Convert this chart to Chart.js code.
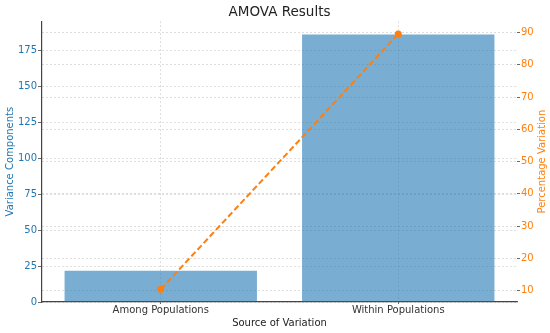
<!DOCTYPE html>
<html>
<head>
<meta charset="utf-8">
<title>AMOVA Results</title>
<script src="https://cdn.jsdelivr.net/npm/chart.js@4.4.1/dist/chart.umd.min.js"></script>
<style>
    html, body { margin: 0; padding: 0; background: #fff; }
    #wrap { width: 550px; height: 333px; }
</style>
</head>
<body>
<div id="wrap"><canvas id="chart"></canvas></div>
<script>
// data
const sources = ['Among Populations', 'Within Populations'];
const varianceComponents = [21.7, 186.3];
const percentVariation = [10.4, 89.6];

const blue = '#1f77b4';
const orange = '#ff7f0e';
const gridColor = 'rgba(0, 0, 0, 0.17)';
const font = 'DejaVu Sans';

// right axis label reads bottom-to-top like the left one, so draw it by hand
const rightTitle = {
    id: 'rightTitle',
    afterDraw(chart) {
        const {ctx, chartArea} = chart;
        ctx.save();
        ctx.font = `10px "${font}"`;
        ctx.fillStyle = orange;
        ctx.textAlign = 'center';
        ctx.textBaseline = 'middle';
        ctx.translate(542, (chartArea.top + chartArea.bottom) / 2);
        ctx.rotate(-Math.PI / 2);
        ctx.fillText('Percentage Variation', 0, 0);
        ctx.restore();
    }
};

new Chart(document.getElementById('chart'), {
    data: {
        labels: sources,
        datasets: [
            {
                type: 'line',
                data: percentVariation,
                yAxisID: 'y1',
                borderColor: orange,
                backgroundColor: orange,
                borderWidth: 2,
                borderDash: [6, 3],
                pointRadius: 3.5,
                pointBackgroundColor: orange,
                pointBorderWidth: 0,
                order: 0
            },
            {
                type: 'bar',
                data: varianceComponents,
                yAxisID: 'y',
                backgroundColor: 'rgba(31, 119, 180, 0.6)',
                barPercentage: 0.81,
                categoryPercentage: 1,
                order: 1
            }
        ]
    },
    options: {
        responsive: true,
        maintainAspectRatio: false,
        animation: false,
        devicePixelRatio: 1,
        layout: {padding: 0},
        plugins: {
            legend: {display: false},
            tooltip: {enabled: false},
            title: {
                display: true,
                text: 'AMOVA Results',
                fullSize: false,
                color: '#222',
                font: {family: font, size: 13.5, weight: 'normal'},
                padding: {top: 4, bottom: 1}
            }
        },
        scales: {
            x: {
                offset: true,
                grid: {
                    offset: false,
                    color: gridColor,
                    lineWidth: 0.8,
                    tickLength: 2,
                    tickColor: '#444',
                    tickBorderDash: []
                },
                // in v4 border.dash styles the grid lines, the axis line stays solid
                border: {display: true, color: '#444', width: 1.2, dash: [2, 2]},
                ticks: {color: '#333', font: {family: font, size: 10}, padding: 0, maxRotation: 0},
                title: {
                    display: true,
                    text: 'Source of Variation',
                    color: '#222',
                    font: {family: font, size: 10},
                    padding: {top: 0, bottom: 3.5}
                },
                afterFit(scale) {
                    scale.height = 31;
                }
            },
            y: {
                position: 'left',
                min: 0,
                max: 195.6,
                grid: {
                    color: gridColor,
                    lineWidth: 0.8,
                    tickLength: 4,
                    tickColor: '#444',
                    tickBorderDash: []
                },
                border: {display: true, color: '#444', width: 1.2, dash: [2, 2]},
                ticks: {
                    stepSize: 25,
                    includeBounds: false,
                    color: blue,
                    padding: 1,
                    font: {family: font, size: 10}
                },
                title: {
                    display: true,
                    text: 'Variance Components',
                    color: blue,
                    font: {family: font, size: 10},
                    padding: {top: 4, bottom: 0}
                },
                afterFit(scale) {
                    scale.width = 42;
                }
            },
            y1: {
                position: 'right',
                min: 6.44,
                max: 93.56,
                grid: {
                    color: gridColor,
                    lineWidth: 0.8,
                    tickLength: 3,
                    tickColor: '#444',
                    tickBorderDash: []
                },
                border: {display: false, dash: [2, 2]},
                ticks: {
                    stepSize: 10,
                    includeBounds: false,
                    color: orange,
                    padding: 1,
                    font: {family: font, size: 10}
                },
                afterFit(scale) {
                    scale.width = 33;
                }
            }
        }
    },
    plugins: [rightTitle]
});
</script>
</body>
</html>
